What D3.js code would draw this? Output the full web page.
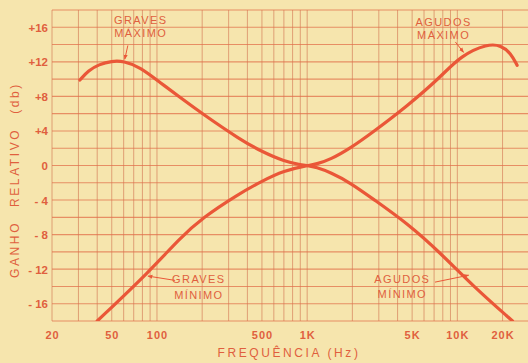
<!DOCTYPE html>
<html>
<head>
<meta charset="utf-8">
<script src="https://cdn.jsdelivr.net/npm/d3@7"></script>
<style>
  body { margin: 0; background: #f6e5ad; }
  svg { display: block; }
  .tick text { fill: #e05f3e; font-family: "Liberation Sans", sans-serif; font-weight: bold; }
  .lbl { fill: #e05f3e; font-family: "Liberation Sans", sans-serif; font-size: 11px; letter-spacing: 1.4px; }
  .title { fill: #e05f3e; font-family: "Liberation Sans", sans-serif; font-size: 12px; letter-spacing: 2.6px; }
</style>
</head>
<body>
<script>
//// DATA
// Curve 1: graves maximo -> agudos minimo
var freqA = [30.7, 35, 41, 50, 60, 77, 105, 142, 200, 358, 500, 700, 900, 1000, 1150, 1430, 1940, 2760, 4650, 7700, 12800, 23300];
var dbA   = [9.9, 11.0, 11.7, 12.1, 12.1, 11.4, 9.6, 7.9, 6.0, 3.0, 1.6, 0.5, 0.1, 0, -0.2, -0.8, -2.0, -3.9, -6.7, -10.1, -14, -18];
// Curve 2: graves minimo -> agudos maximo
var freqB = [40, 90, 142, 203, 342, 500, 700, 1000, 1150, 1430, 1940, 2760, 4650, 7700, 10500, 15900, 19600, 22700, 25000];
var dbB   = [-18, -12.2, -8.4, -6, -3.4, -1.8, -0.6, 0, 0.15, 0.7, 2.0, 3.9, 6.9, 10.2, 12.7, 14.1, 13.9, 13.0, 11.6];

var yTicks = [16, 12, 8, 4, 0, -4, -8, -12, -16];
var xTicks = [20, 50, 100, 500, 1000, 5000, 10000, 20000];
var xTickLabels = ["20", "50", "100", "500", "1K", "5K", "10K", "20K"];

// labels: [line1, line2, freq, db of first baseline, db of second baseline]
var labels = [
  ["GRAVES", "MÁXIMO", 78, 16.4, 14.9],
  ["AGUDOS", "MÁXIMO", 8100, 16.1, 14.6],
  ["GRAVES", "MÍNIMO", 190, -13.6, -15.4],
  ["AGUDOS", "MÍNIMO", 4300, -13.6, -15.3]
];
// arrows: from (freq, db) to (freq, db)
var arrows = [
  [64, 13.9, 61, 12.3],
  [9700, 14.3, 11000, 13.1],
  [132, -13.3, 87, -12.8],
  [7100, -13.5, 11900, -12.7]
];

//// SETUP
var W = 528, H = 363;
var x = d3.scaleLog().domain([20, 30000]).range([52, 529]);
var y = d3.scaleLinear().domain([-18, 18]).range([321, 10]);

var red = "#ea5738";
var svg = d3.select("body").append("svg").attr("width", W).attr("height", H);

svg.append("defs").append("clipPath").attr("id", "plot")
  .append("rect").attr("x", 52).attr("y", 10).attr("width", 480).attr("height", 311);

// Grid
var vLines = [];
[10, 100, 1000, 10000].forEach(function(dec) {
  for (var k = 1; k < 10; k++) {
    var f = dec * k;
    if (f >= 20 && f <= 30000) vLines.push(f);
  }
});
var hLines = d3.range(-18, 19, 2);

svg.append("g").selectAll("line").data(vLines).enter().append("line")
  .attr("x1", function(d) { return x(d); }).attr("x2", function(d) { return x(d); })
  .attr("y1", y(18)).attr("y2", y(-18))
  .attr("stroke", "#d0704f").attr("stroke-opacity", 0.6).attr("stroke-width", 1);

svg.append("g").selectAll("line").data(hLines).enter().append("line")
  .attr("x1", x(20)).attr("x2", W)
  .attr("y1", function(d) { return y(d); }).attr("y2", function(d) { return y(d); })
  .attr("stroke", "#e2704c").attr("stroke-opacity", 0.75).attr("stroke-width", 1.1);

// Axes
var yAxis = d3.axisLeft(y).tickValues(yTicks).tickSize(0).tickPadding(4)
  .tickFormat(function(d) { return d > 0 ? "+" + d : (d < 0 ? "- " + (-d) : "0"); });
var gy = svg.append("g").attr("transform", "translate(52,0)").call(yAxis);
gy.select(".domain").remove();
gy.selectAll("text").style("font-size", "11.5px").attr("dy", "0.35em");

var xAxis = d3.axisBottom(x).tickValues(xTicks).tickSize(0).tickPadding(10)
  .tickFormat(function(d, i) { return xTickLabels[i]; });
var gx = svg.append("g").attr("transform", "translate(0,321)").call(xAxis);
gx.select(".domain").remove();
gx.selectAll("text").style("font-size", "11px").style("letter-spacing", "1px");

// Curves
var line = d3.line()
  .x(function(d) { return x(d[0]); })
  .y(function(d) { return y(d[1]); })
  .curve(d3.curveBasis);

var plot = svg.append("g").attr("clip-path", "url(#plot)");
[d3.zip(freqA, dbA), d3.zip(freqB, dbB)].forEach(function(pts) {
  plot.append("path").datum(pts)
    .attr("d", line)
    .attr("fill", "none")
    .attr("stroke", red)
    .attr("stroke-width", 3.2)
    .attr("stroke-linecap", "round");
});

// Annotations
svg.append("defs").append("marker").attr("id", "arr")
  .attr("viewBox", "0 0 10 10").attr("refX", 9).attr("refY", 5)
  .attr("markerWidth", 5).attr("markerHeight", 5).attr("orient", "auto")
  .append("path").attr("d", "M0,1 L10,5 L0,9 Z").attr("fill", red);

labels.forEach(function(l) {
  var t = svg.append("g");
  t.append("text").attr("class", "lbl").attr("text-anchor", "middle")
    .attr("x", x(l[2])).attr("y", y(l[3])).text(l[0]);
  t.append("text").attr("class", "lbl").attr("text-anchor", "middle")
    .attr("x", x(l[2])).attr("y", y(l[4])).text(l[1]);
});

svg.append("g").selectAll("line").data(arrows).enter().append("line")
  .attr("x1", function(d) { return x(d[0]); }).attr("y1", function(d) { return y(d[1]); })
  .attr("x2", function(d) { return x(d[2]); }).attr("y2", function(d) { return y(d[3]); })
  .attr("stroke", red).attr("stroke-width", 1)
  .attr("marker-end", "url(#arr)");

// Axis titles
svg.append("text").attr("class", "title").attr("text-anchor", "middle")
  .attr("x", 289).attr("y", 357).text("FREQUÊNCIA (Hz)");

svg.append("text").attr("class", "title").attr("text-anchor", "middle")
  .attr("transform", "translate(19,180) rotate(-90)")
  .style("word-spacing", "8px")
  .text("GANHO RELATIVO (db)");
</script>
</body>
</html>
